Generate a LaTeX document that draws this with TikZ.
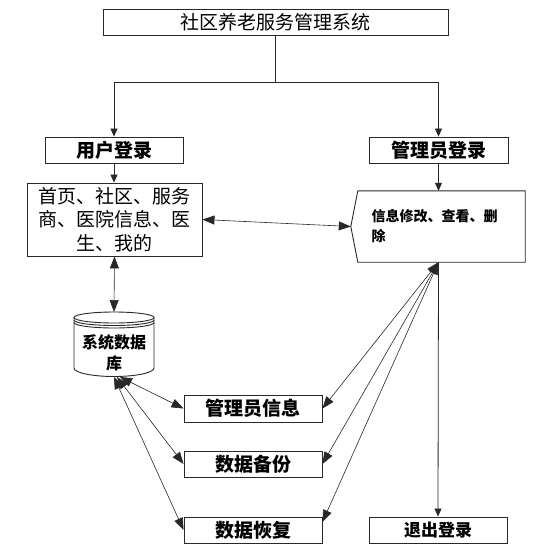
\documentclass[tikz,border=0pt]{standalone}
\usepackage{fontspec}
\newfontfamily\cjk{Noto Sans CJK SC}
\usetikzlibrary{arrows.meta, positioning, calc}
\definecolor{linegray}{RGB}{40,40,40}

\begin{document}
\begin{tikzpicture}[x=1pt, y=-1pt,
  box/.style={rectangle, draw=linegray, line width=0.9pt, fill=white, inner sep=0pt,
    align=center, minimum height=26pt, font=\cjk\fontsize{19pt}{23.5pt}\selectfont},
  boldbox/.style={box, font=\cjk\bfseries\fontsize{19pt}{23pt}\selectfont},
  dbline/.style={line width=0.9pt, color=linegray},
  arrow/.style={-{Triangle[length=8pt, width=7pt]}, line width=0.8pt, color=linegray},
  link/.style={{Triangle[length=12pt, width=9pt]}-{Triangle[length=12pt, width=9pt]},
    line width=0.6pt, color=linegray}
]

\useasboundingbox (0,0) rectangle (541,555);

% top level
\node[box, minimum width=345pt] (sys) at (275.5,22) {社区养老服务管理系统};
\node[boldbox, minimum width=138pt] (user) at (114,150) {用户登录};
\node[boldbox, minimum width=139pt] (admin) at (438.5,150) {管理员登录};

% user side
\node[box, minimum width=175pt, minimum height=73pt] (home) at (114.5,219.5)
  {首页、社区、服务\\商、医院信息、医\\生、我的};

% admin side
\node[minimum width=167pt, minimum height=71pt, inner sep=0pt, text width=140pt, align=left,
  font=\cjk\bfseries\fontsize{14pt}{20pt}\selectfont] (edit) at (441.5,226.5)
  {信息修改、查看、删\\除};
\draw[dbline] (edit.north west) -- (edit.north east) -- (edit.south east) -- (edit.south west)
  -- ([xshift=-7pt]edit.west) coordinate (tip) -- cycle;

% database
\node[inner sep=0pt, align=center, font=\cjk\bfseries\fontsize{16pt}{21pt}\selectfont]
  (db) at (114,353) {系统数据\\库};
\draw[dbline] (74,317.5) -- (74,368) arc[start angle=180, end angle=360, x radius=40pt, y radius=8.5pt]
  -- (154,317.5);
\draw[dbline] (114,317.5) ellipse [x radius=40pt, y radius=5.5pt];
\draw[dbline] (74,320) arc[start angle=180, end angle=360, x radius=40pt, y radius=5.5pt];
\draw[dbline] (74,322.5) arc[start angle=180, end angle=360, x radius=40pt, y radius=5.5pt];
\coordinate (dbtop) at (114,312);
\coordinate (dbbot) at (114,377);

% bottom row
\node[boldbox, minimum width=138pt, minimum height=27pt] (info) at (253,408.5) {管理员信息};
\node[boldbox, minimum width=138pt] (backup) at (253,464) {数据备份};
\node[boldbox, minimum width=138pt] (restore) at (253,530) {数据恢复};
\node[boldbox, minimum width=138pt, font=\cjk\bfseries\fontsize{17pt}{20pt}\selectfont]
  (logout) at (438,530) {退出登录};

% connectors
\coordinate (split) at (sys.south |- 0,82);
\draw[dbline] (sys.south) -- (split);
\draw[arrow] (split) -| (user.north);
\draw[arrow] (split) -| (admin.north);
\draw[arrow] (user.south) -- (user.south |- home.north);
\draw[arrow] (admin.south) -- (admin.south |- edit.north);
\draw[link] (home.east) -- (tip);
\draw[link] (home.south) -- (dbtop);

\coordinate (hub) at (admin.south |- edit.south);
\foreach \b/\dx in {info/6, backup/3, restore/0}
  \draw[link] ([xshift=\dx pt]dbbot) -- (\b.west);
\foreach \b/\dy in {info/0, backup/0, restore/8}
  \draw[link] (hub) -- ([yshift=\dy pt]\b.east);
\draw[arrow] (hub) -- (logout.north);

\end{tikzpicture}
\end{document}
